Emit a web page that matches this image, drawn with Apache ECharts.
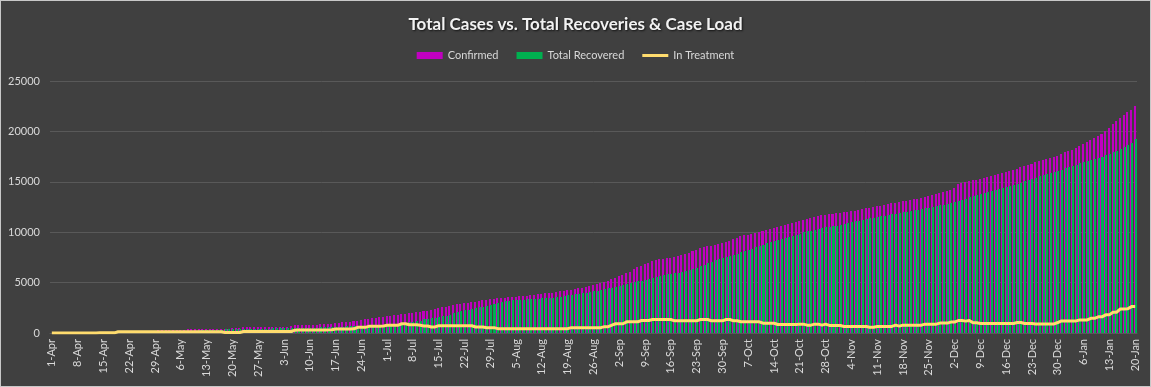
<!DOCTYPE html>
<html>
<head>
<meta charset="utf-8">
<script src="https://cdn.jsdelivr.net/npm/echarts@6/dist/echarts.min.js"></script>
<style>
html,body{margin:0;padding:0;background:#404040;}
#chart{position:absolute;left:0;top:0;width:1151px;height:387px;}
#frame{position:absolute;left:0;top:0;width:1151px;height:387px;box-sizing:border-box;border:1px solid #c8c8c8;pointer-events:none;}
</style>
</head>
<body>
<div id="chart"></div>
<div id="frame"></div>
<script>
// Categories: daily dates 1-Apr (2020) to 20-Jan (2021)
const monthNames = ['Apr','May','Jun','Jul','Aug','Sep','Oct','Nov','Dec','Jan'];
const monthDays  = [30, 31, 30, 31, 31, 30, 31, 30, 31, 20];
const dates = [];
monthNames.forEach((m, k) => { for (let d = 1; d <= monthDays[k]; d++) dates.push(d + '-' + m); });

const yTicks = [0, 5000, 10000, 15000, 20000, 25000];

const confirmed = [
5, 7, 9, 10, 12, 15, 18, 20, 22, 25,
28, 30, 33, 36, 40, 45, 50, 55, 150, 160,
165, 170, 175, 180, 190, 200, 210, 220, 235, 250,
270, 290, 300, 310, 320, 330, 340, 350, 360, 370,
380, 390, 400, 410, 420, 430, 435, 440, 445, 450,
455, 460, 560, 565, 570, 575, 580, 585, 590, 595,
600, 610, 620, 630, 640, 650, 780, 795, 800, 815,
820, 830, 840, 850, 870, 880, 900, 980, 1040, 1080,
1110, 1140, 1180, 1230, 1290, 1350, 1400, 1440, 1460, 1560,
1620, 1660, 1700, 1750, 1790, 1850, 1900, 1950, 2000, 2050,
2100, 2160, 2220, 2300, 2380, 2450, 2530, 2620, 2700, 2780,
2850, 2900, 2950, 3000, 3060, 3120, 3180, 3240, 3320, 3380,
3420, 3450, 3480, 3520, 3550, 3590, 3620, 3650, 3680, 3710,
3750, 3800, 3840, 3880, 3920, 3960, 4000, 4060, 4120, 4190,
4250, 4300, 4360, 4430, 4500, 4560, 4640, 4720, 4820, 4930,
5050, 5200, 5350, 5500, 5650, 5800, 5950, 6100, 6300, 6500,
6650, 6800, 6950, 7100, 7200, 7300, 7380, 7430, 7480, 7530,
7600, 7700, 7820, 7940, 8100, 8250, 8450, 8550, 8620, 8680,
8730, 8800, 8900, 9000, 9150, 9300, 9450, 9600, 9680, 9750,
9850, 9950, 10050, 10150, 10250, 10320, 10450, 10550, 10650, 10750,
10850, 10950, 11000, 11100, 11200, 11300, 11450, 11500, 11600, 11700,
11750, 11800, 11850, 11900, 11950, 12000, 12050, 12100, 12150, 12200,
12300, 12380, 12430, 12500, 12550, 12620, 12680, 12750, 12850, 12920,
12980, 13050, 13100, 13170, 13250, 13300, 13380, 13450, 13550, 13700,
13800, 13900, 14000, 14100, 14200, 14400, 14800, 14850, 14950, 15050,
15150, 15200, 15300, 15380, 15450, 15550, 15650, 15750, 15850, 15980,
16100, 16200, 16300, 16450, 16550, 16650, 16750, 16950, 17050, 17150,
17250, 17350, 17480, 17600, 17800, 17950, 18050, 18200, 18400, 18550,
18750, 18950, 19150, 19300, 19500, 19750, 20000, 20300, 20700, 21000,
21300, 21600, 21900, 22100, 22550
];

const recovered = [
0, 1, 2, 3, 4, 6, 8, 10, 12, 14,
16, 18, 21, 23, 26, 31, 35, 40, 40, 42,
45, 48, 50, 55, 60, 68, 78, 90, 105, 120,
140, 160, 170, 180, 190, 200, 210, 220, 230, 240,
250, 260, 270, 280, 290, 300, 305, 390, 395, 400,
405, 410, 410, 415, 420, 425, 430, 435, 440, 445,
450, 460, 470, 480, 490, 500, 500, 505, 510, 515,
520, 530, 540, 550, 560, 570, 580, 600, 620, 640,
660, 680, 700, 710, 720, 740, 760, 780, 800, 820,
840, 860, 880, 900, 920, 940, 960, 1080, 1130, 1180,
1240, 1350, 1400, 1450, 1520, 1600, 1660, 1700, 1800, 1950,
2050, 2150, 2250, 2330, 2400, 2470, 2550, 2620, 2700, 2800,
2900, 3000, 3070, 3130, 3180, 3230, 3270, 3290, 3310, 3340,
3360, 3390, 3420, 3440, 3460, 3490, 3520, 3560, 3610, 3680,
3730, 3780, 3840, 3900, 3950, 4000, 4060, 4140, 4200, 4270,
4340, 4420, 4500, 4600, 4680, 4760, 4850, 4950, 5050, 5130,
5200, 5300, 5400, 5480, 5560, 5650, 5750, 5820, 5880, 5930,
5980, 6050, 6150, 6250, 6350, 6450, 6600, 6750, 6900, 7050,
7200, 7320, 7450, 7550, 7650, 7750, 7880, 8000, 8120, 8250,
8380, 8500, 8620, 8750, 8880, 9000, 9100, 9200, 9300, 9400,
9520, 9620, 9720, 9850, 10000, 10100, 10150, 10250, 10330, 10400,
10470, 10530, 10600, 10660, 10720, 10800, 10880, 10980, 11080, 11150,
11220, 11300, 11360, 11420, 11500, 11570, 11640, 11700, 11780, 11850,
11900, 11960, 12030, 12100, 12170, 12250, 12320, 12380, 12440, 12500,
12580, 12660, 12740, 12820, 12900, 12980, 13080, 13180, 13300, 13450,
13600, 13700, 13800, 13880, 13960, 14050, 14150, 14250, 14350, 14450,
14580, 14700, 14800, 14920, 15030, 15150, 15280, 15420, 15550, 15680,
15800, 15920, 16020, 16120, 16220, 16320, 16420, 16560, 16700, 16820,
16950, 17050, 17150, 17250, 17380, 17500, 17620, 17780, 17950, 18100,
18250, 18420, 18620, 18850, 19200
];

const inTreatment = [
5, 6, 7, 7, 8, 9, 10, 10, 10, 11,
12, 12, 12, 13, 14, 14, 15, 15, 125, 128,
130, 130, 130, 130, 132, 130, 130, 130, 130, 132,
130, 130, 132, 130, 130, 131, 130, 130, 130, 130,
132, 130, 130, 130, 130, 130, 128, 50, 50, 52,
50, 55, 150, 150, 155, 150, 150, 150, 152, 150,
150, 155, 150, 150, 152, 150, 280, 290, 290, 300,
300, 300, 300, 300, 310, 310, 320, 400, 400, 400,
405, 400, 410, 560, 560, 560, 660, 660, 660, 680,
700, 760, 760, 760, 780, 920, 920, 820, 820, 820,
760, 700, 700, 600, 600, 730, 730, 730, 730, 730,
730, 730, 730, 730, 720, 600, 600, 600, 530, 530,
530, 430, 430, 430, 430, 430, 430, 430, 430, 430,
430, 430, 430, 430, 430, 430, 430, 430, 430, 430,
430, 530, 530, 530, 530, 530, 530, 530, 530, 530,
630, 630, 780, 920, 920, 920, 1110, 1110, 1110, 1110,
1240, 1240, 1240, 1340, 1340, 1340, 1340, 1340, 1340, 1210,
1210, 1210, 1210, 1210, 1210, 1210, 1340, 1340, 1340, 1210,
1210, 1210, 1210, 1340, 1340, 1210, 1210, 1110, 1110, 1110,
1110, 1110, 1110, 970, 970, 970, 970, 840, 840, 840,
840, 840, 840, 880, 880, 780, 780, 880, 880, 780,
880, 750, 750, 750, 750, 650, 650, 650, 650, 650,
650, 650, 580, 580, 650, 650, 650, 650, 650, 780,
680, 780, 780, 780, 780, 780, 780, 880, 880, 880,
880, 980, 980, 980, 1080, 1080, 1240, 1240, 1180, 1240,
1010, 1010, 940, 940, 940, 940, 940, 940, 940, 940,
940, 940, 1040, 1040, 940, 940, 940, 900, 900, 900,
900, 900, 900, 1040, 1200, 1200, 1200, 1200, 1200, 1300,
1300, 1300, 1460, 1460, 1600, 1600, 1800, 1800, 2060, 2060,
2390, 2390, 2400, 2620, 2620
];

const FONT = 'Lato, "Open Sans", sans-serif';
const MAGENTA = '#C000C0', GREEN = '#00B050', GOLD = '#FFDC6E';

// overlapping clustered columns snapped to whole pixels (positions from the axes' own scales)
// spans are fractions of the category band relative to the category centre
const magentaSpan = [-0.41, 0.14];
const greenSpan = [-0.14, 0.41];
function columnRenderer(span, color) {
  return function (params, api) {
    const idx = api.value(0), v = api.value(1);
    const top = api.coord([idx, v]);
    const base = api.coord([idx, 0]);
    const band = api.size([1, 0])[0];
    const x0 = Math.round(top[0] + band * span[0]);
    const x1 = Math.round(top[0] + band * span[1]);
    const yT = Math.round(top[1]), yB = Math.round(base[1]);
    return {
      type: 'rect',
      shape: {x: x0, y: yT, width: Math.max(1, x1 - x0), height: yB - yT},
      style: {fill: color}
    };
  };
}

const chart = echarts.init(document.getElementById('chart'), null, {renderer: 'canvas'});
chart.setOption({
  backgroundColor: '#404040',
  animation: false,
  title: {
    text: 'Total Cases vs. Total Recoveries & Case Load',
    left: 'center',
    top: 11,
    textStyle: {
      color: '#F2F2F2', fontSize: 17, fontWeight: 'bold', fontFamily: FONT,
      textShadowColor: 'rgba(0,0,0,0.7)', textShadowOffsetX: 1, textShadowOffsetY: 1, textShadowBlur: 2
    }
  },
  legend: {
    top: 45,
    left: 'center',
    itemWidth: 26,
    itemHeight: 7,
    itemGap: 18,
    textStyle: {color: '#D9D9D9', fontSize: 11, fontFamily: FONT},
    data: [
      {name: 'Confirmed', icon: 'rect'},
      {name: 'Total Recovered', icon: 'rect'},
      {name: 'In Treatment', icon: 'path://M0,0 H26 V3 H0 Z'}
    ]
  },
  grid: {left: 50, right: 14, top: 81, bottom: 54, containLabel: false},
  xAxis: {
    type: 'category',
    data: dates,
    boundaryGap: true,
    axisLine: {show: true, lineStyle: {color: '#595959'}},
    axisTick: {show: false},
    axisLabel: {
      interval: 6, rotate: 90, color: '#D9D9D9', fontSize: 11, fontFamily: FONT, margin: 6
    },
    splitLine: {show: false}
  },
  yAxis: {
    type: 'value',
    min: yTicks[0],
    max: yTicks[yTicks.length - 1],
    interval: 5000,
    axisLine: {show: false},
    axisTick: {show: false},
    axisLabel: {color: '#D9D9D9', fontSize: 11, fontFamily: FONT, margin: 10, formatter: v => String(v)},
    splitLine: {lineStyle: {color: '#595959', width: 1}}
  },
  series: [
    {
      name: 'Confirmed', type: 'custom',
      data: confirmed.map((v, i) => [i, v]),
      encode: {x: 0, y: 1},
      itemStyle: {color: MAGENTA},
      renderItem: columnRenderer(magentaSpan, MAGENTA),
      z: 2
    },
    {
      name: 'Total Recovered', type: 'custom',
      data: recovered.map((v, i) => [i, v]),
      encode: {x: 0, y: 1},
      itemStyle: {color: GREEN},
      renderItem: columnRenderer(greenSpan, GREEN),
      z: 3
    },
    {
      name: 'In Treatment', type: 'line', data: inTreatment,
      symbol: 'none', showSymbol: false,
      lineStyle: {color: GOLD, width: 3},
      itemStyle: {color: GOLD},
      z: 5
    }
  ]
});
</script>
</body>
</html>
